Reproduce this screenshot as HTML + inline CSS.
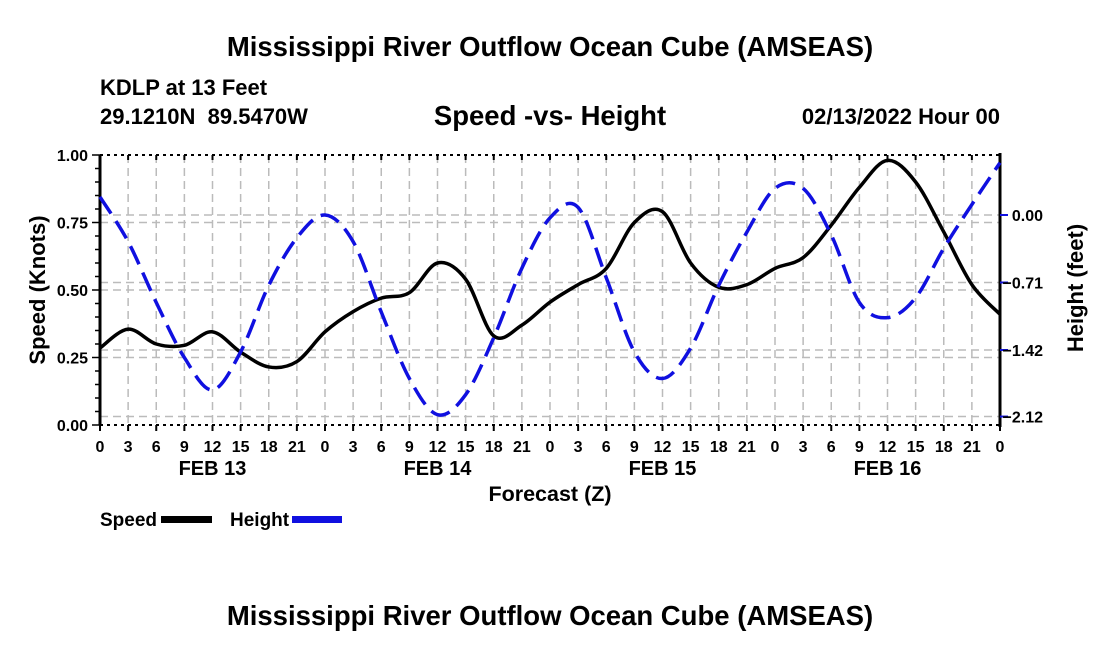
<!DOCTYPE html>
<html><head><meta charset="utf-8">
<style>
body{margin:0;background:#fff;}
svg{display:block;font-family:"Liberation Sans",Arial,sans-serif;font-weight:bold;}
</style></head>
<body>
<svg id="chart" width="1100" height="650" viewBox="0 0 1100 650">
  <text x="550" y="56" font-size="27.5" text-anchor="middle">Mississippi River Outflow Ocean Cube (AMSEAS)</text>
  <text x="100" y="95" font-size="22">KDLP at 13 Feet</text>
  <text x="100" y="124" font-size="22" xml:space="preserve">29.1210N  89.5470W</text>
  <text x="550" y="125" font-size="27.5" text-anchor="middle">Speed -vs- Height</text>
  <text x="1000" y="124" font-size="22" text-anchor="end">02/13/2022 Hour 00</text>
  <g id="grid"></g>
  <g id="axes"></g>
  <g id="series"></g>
  <text x="550" y="501" font-size="21.5" text-anchor="middle">Forecast (Z)</text>
  <text transform="translate(45,290) rotate(-90)" font-size="22" text-anchor="middle">Speed (Knots)</text>
  <text transform="translate(1083,288) rotate(-90)" font-size="22" text-anchor="middle">Height (feet)</text>
  <g>
    <text x="100" y="526" font-size="19">Speed</text>
    <rect x="161" y="516" width="51" height="7" fill="#000"/>
    <text x="230" y="526" font-size="19">Height</text>
    <rect x="292" y="516" width="50" height="7" fill="#1010e0"/>
  </g>
  <text x="550" y="625" font-size="27.5" text-anchor="middle">Mississippi River Outflow Ocean Cube (AMSEAS)</text>
</svg>
<script>
const hours = [0,3,6,9,12,15,18,21,24,27,30,33,36,39,42,45,48,51,54,57,60,63,66,69,72,75,78,81,84,87,90,93,96];
const speedValues = [0.285,0.355,0.30,0.295,0.345,0.27,0.215,0.235,0.345,0.42,0.47,0.49,0.60,0.54,0.33,0.37,0.455,0.52,0.58,0.75,0.79,0.60,0.51,0.52,0.58,0.62,0.74,0.88,0.98,0.90,0.715,0.52,0.41];
const heightValues = [0.19,-0.28,-0.92,-1.50,-1.84,-1.44,-0.74,-0.24,0.0,-0.28,-1.02,-1.72,-2.10,-1.89,-1.29,-0.56,-0.03,0.08,-0.66,-1.44,-1.72,-1.40,-0.74,-0.18,0.28,0.28,-0.21,-0.92,-1.08,-0.87,-0.35,0.11,0.55];
const xTickLabels = ["0","3","6","9","12","15","18","21","0","3","6","9","12","15","18","21","0","3","6","9","12","15","18","21","0","3","6","9","12","15","18","21","0"];
const dayLabels = ["FEB 13","FEB 14","FEB 15","FEB 16"];
const speedTicks = [0,0.25,0.5,0.75,1.0];
const heightTicks = [0.00,-0.71,-1.42,-2.12];

const NS="http://www.w3.org/2000/svg";
const L=100,R=1000,T=155,B=425;
const xs=h=>L+(h/96)*(R-L);
const ys=v=>B-v*(B-T);
const yh=v=>215-v*95.07;
function mk(tag,attrs,parent){const e=document.createElementNS(NS,tag);for(const k in attrs)e.setAttribute(k,attrs[k]);parent.appendChild(e);return e;}
const grid=document.getElementById('grid'),axes=document.getElementById('axes'),series=document.getElementById('series');
const gs={stroke:"#bbb","stroke-width":1.5,"stroke-dasharray":"8,5"};
hours.forEach((h,i)=>{if(i>0&&i<hours.length-1){const l=mk('line',Object.assign({x1:xs(h),x2:xs(h),y1:T,y2:B},gs),grid);

}});
speedTicks.forEach(v=>{if(v>0&&v<1){const l=mk('line',Object.assign({x1:L,x2:R,y1:ys(v),y2:ys(v)},gs),grid);

}});
heightTicks.forEach(v=>{const l=mk('line',Object.assign({x1:L,x2:R,y1:yh(v),y2:yh(v)},gs),grid);

});
mk('line',{x1:L,x2:L,y1:T,y2:B,stroke:"#000","stroke-width":3},axes);
mk('line',{x1:R,x2:R,y1:T-2,y2:B+2,stroke:"#000","stroke-width":3},axes);
mk('line',{x1:L,x2:R,y1:T,y2:T,stroke:"#000","stroke-width":2,"stroke-dasharray":"3,4"},axes);
mk('line',{x1:L,x2:R,y1:B,y2:B,stroke:"#000","stroke-width":2,"stroke-dasharray":"3,4"},axes);
hours.forEach((h,i)=>{
  mk('line',{x1:xs(h),x2:xs(h),y1:B,y2:B+6,stroke:"#000","stroke-width":2},axes);
  mk('line',{x1:xs(h),x2:xs(h),y1:T,y2:T+5,stroke:"#000","stroke-width":2},axes);
  const t=mk('text',{x:xs(h),y:B+27,"font-size":16,"text-anchor":"middle"},axes);t.textContent=xTickLabels[i];
  
  
});
dayLabels.forEach((d,i)=>{const t=mk('text',{x:xs(12+24*i),y:B+50,"font-size":20,"text-anchor":"middle"},axes);t.textContent=d;
  
  });
for(let v=0;v<=1.0001;v+=0.05){mk('line',{x1:L-(Math.round(v*100)%25===0?8:5),x2:L,y1:ys(v),y2:ys(v),stroke:"#000","stroke-width":1.5},axes);}
speedTicks.forEach(v=>{const t=mk('text',{x:L-12,y:ys(v)+6,"font-size":16,"text-anchor":"end"},axes);t.textContent=v.toFixed(2);
  
  });
heightTicks.forEach(v=>{mk('line',{x1:R,x2:R+8,y1:yh(v),y2:yh(v),stroke:"#1010e0","stroke-width":2},axes);
  const t=mk('text',{x:1043,y:yh(v)+6,"font-size":16,"text-anchor":"end"},axes);t.textContent=(v===0?"0.00":"\u2212"+Math.abs(v).toFixed(2));
  
  });
function smooth(pts){let d=`M${pts[0][0]},${pts[0][1]}`;for(let i=0;i<pts.length-1;i++){const p0=pts[i-1]||pts[i],p1=pts[i],p2=pts[i+1],p3=pts[i+2]||p2;
d+=` C${p1[0]+(p2[0]-p0[0])/6},${p1[1]+(p2[1]-p0[1])/6} ${p2[0]-(p3[0]-p1[0])/6},${p2[1]-(p3[1]-p1[1])/6} ${p2[0]},${p2[1]}`;}return d;}
const sp=mk('path',{d:smooth(hours.map((h,i)=>[xs(h),ys(speedValues[i])])),fill:"none",stroke:"#000","stroke-width":3.5},series);


const hp=mk('path',{d:smooth(hours.map((h,i)=>[xs(h),yh(heightValues[i])])),fill:"none",stroke:"#1010e0","stroke-width":3.5,"stroke-dasharray":"20,9"},series);


</script>
</body></html>
